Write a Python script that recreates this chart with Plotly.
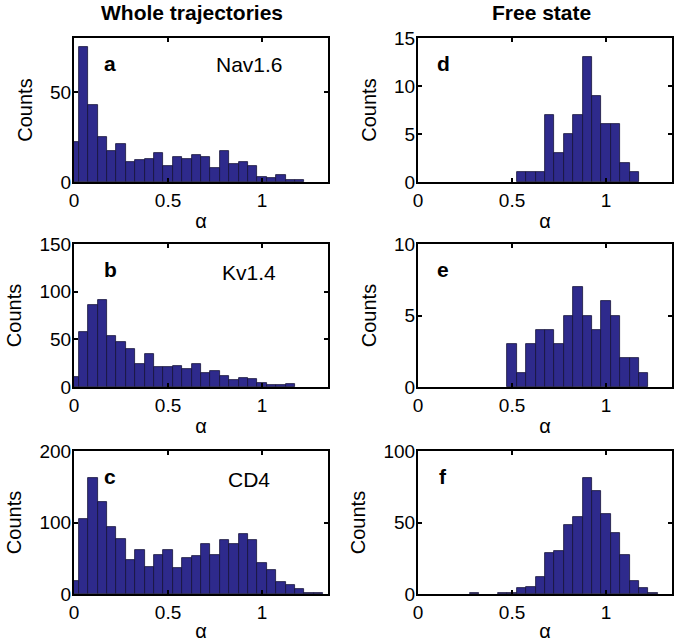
import plotly.graph_objects as go

# bin centres (alpha), width 0.05
alpha_centers = [round(0.05 * k, 2) for k in range(27)]
bin_width = 0.05

# Whole trajectories
nav16_whole = [22, 75, 43, 25, 17, 21, 11, 12, 13, 16, 9, 14, 13, 15, 14, 8, 17, 10, 11, 9, 3, 2, 4, 1, 1, 0, 0]
kv14_whole = [10, 58, 86, 91, 54, 47, 40, 24, 35, 21, 21, 22, 19, 24, 15, 17, 12, 7, 9, 8, 4, 2, 2, 3, 0, 0, 0]
cd4_whole = [18, 105, 162, 128, 94, 77, 48, 62, 38, 55, 62, 36, 50, 53, 70, 54, 75, 70, 84, 75, 43, 33, 17, 12, 7, 2, 1]

# Free state
nav16_free = [0] * 11 + [1, 1, 1, 7, 3, 5, 7, 13, 9, 6, 6, 2, 1, 0, 0, 0]
kv14_free = [0] * 10 + [3, 1, 3, 4, 4, 3, 5, 7, 5, 4, 6, 5, 2, 2, 1, 0, 0]
cd4_free = [0, 0, 0, 0, 0, 0, 1, 0, 0, 1, 1, 4, 5, 12, 29, 30, 48, 54, 81, 72, 56, 43, 27, 9, 4, 1, 0]

panel_letters = ["a", "b", "c", "d", "e", "f"]
protein_names = ["Nav1.6", "Kv1.4", "CD4"]
column_titles = ["Whole trajectories", "Free state"]
y_ranges = [80, 150, 200, 15, 10, 100]
y_ticks = [[0, 50], [0, 50, 100, 150], [0, 100, 200], [0, 5, 10, 15], [0, 5, 10], [0, 50, 100]]
x_ticks = [0, 0.5, 1]
x_ticktext = ["0", "0.5", "1"]

series = [nav16_whole, kv14_whole, cd4_whole, nav16_free, kv14_free, cd4_free]

W, H = 675, 642
col_px = [(74, 328), (418, 672)]
row_px = [(38, 182), (244, 387), (451, 594)]

FONT = "Liberation Sans, Arial, sans-serif"
BAR_COLOR = "rgb(46,42,140)"

fig = go.Figure()
layout = dict(
    width=W, height=H,
    margin=dict(l=0, r=0, t=0, b=0, autoexpand=False),
    paper_bgcolor="white", plot_bgcolor="white",
    showlegend=False, bargap=0,
    font=dict(family=FONT, size=19, color="black"),
)

annotations = []
for i in range(6):
    col = i // 3
    row = i % 3
    n = i + 1
    xa = "x" if n == 1 else f"x{n}"
    ya = "y" if n == 1 else f"y{n}"
    counts = [v if v > 0 else None for v in series[i]]
    fig.add_trace(go.Bar(
        x=alpha_centers, y=counts, width=bin_width,
        marker=dict(color=BAR_COLOR, line=dict(color="#15133a", width=0.8)),
        xaxis=xa, yaxis=ya, hoverinfo="x+y",
    ))
    x0, x1 = col_px[col]
    y0, y1 = row_px[row]
    axis_common = dict(
        showline=True, linewidth=2, linecolor="black", mirror="ticks",
        ticks="inside", ticklen=4, tickwidth=1.5, tickcolor="black",
        showgrid=False, zeroline=False, automargin=False,
        tickfont=dict(family=FONT, size=19, color="black"),
    )
    layout["xaxis" if n == 1 else f"xaxis{n}"] = dict(
        axis_common,
        domain=[x0 / W, x1 / W], anchor=ya, range=[0, 1.35],
        tickvals=x_ticks, ticktext=x_ticktext,
        title=dict(text="α", font=dict(family=FONT, size=20), standoff=4),
    )
    layout["yaxis" if n == 1 else f"yaxis{n}"] = dict(
        axis_common,
        domain=[1 - y1 / H, 1 - y0 / H], anchor=xa, range=[0, y_ranges[i]],
        tickvals=y_ticks[i], ticklabelstandoff=-3,
        title=dict(text="Counts", font=dict(family=FONT, size=20), standoff=12),
    )
    annotations.append(dict(
        text=f"<b>{panel_letters[i]}</b>", xref=f"{xa} domain", yref=f"{ya} domain",
        x=(36 if col == 0 else 25) / (x1 - x0), y=1 - 25 / (y1 - y0),
        xanchor="center", yanchor="middle", showarrow=False,
        font=dict(family=FONT, size=21, color="black"),
    ))
    if col == 0:
        annotations.append(dict(
            text=protein_names[row], xref=f"{xa} domain", yref=f"{ya} domain",
            x=(249 - x0) / (x1 - x0), y=1 - (26 if row == 0 else 28) / (y1 - y0),
            xanchor="center", yanchor="middle", showarrow=False,
            font=dict(family=FONT, size=21, color="black"),
        ))

annotations.append(dict(text="<b>Whole trajectories</b>", xref="paper", yref="paper",
                        x=192 / W, y=1 - 13 / H, xanchor="center", yanchor="middle",
                        showarrow=False, font=dict(family=FONT, size=21, color="black")))
annotations.append(dict(text="<b>Free state</b>", xref="paper", yref="paper",
                        x=541 / W, y=1 - 13 / H, xanchor="center", yanchor="middle",
                        showarrow=False, font=dict(family=FONT, size=21, color="black")))
layout["annotations"] = annotations
fig.update_layout(**layout)
fig.write_html("out.html", config={"displayModeBar": False},
               post_script="document.body.style.margin='0';")
